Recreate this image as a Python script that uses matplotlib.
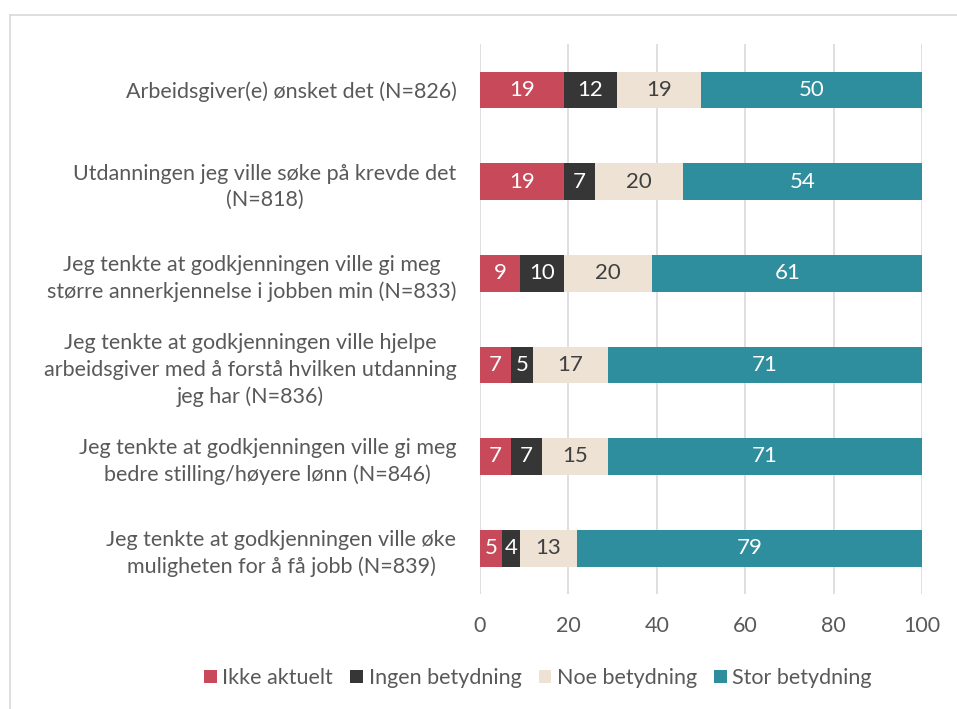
import matplotlib.pyplot as plt
from matplotlib.lines import Line2D
import numpy as np

plt.rcParams['font.family'] = ['Lato', 'DejaVu Sans']

# Data
categories = [
    "Arbeidsgiver(e) ønsket det (N=826)",
    "Utdanningen jeg ville søke på krevde det\n(N=818)",
    "Jeg tenkte at godkjenningen ville gi meg\nstørre annerkjennelse i jobben min (N=833)",
    "Jeg tenkte at godkjenningen ville hjelpe\narbeidsgiver med å forstå hvilken utdanning\njeg har (N=836)",
    "Jeg tenkte at godkjenningen ville gi meg\nbedre stilling/høyere lønn (N=846)",
    "Jeg tenkte at godkjenningen ville øke\nmuligheten for å få jobb (N=839)",
]
series_names = ["Ikke aktuelt", "Ingen betydning", "Noe betydning", "Stor betydning"]
ikke_aktuelt = [19, 19, 9, 7, 7, 5]
ingen_betydning = [12, 7, 10, 5, 7, 4]
noe_betydning = [19, 20, 20, 17, 15, 13]
stor_betydning = [50, 54, 61, 71, 71, 79]
x_ticks = [0, 20, 40, 60, 80, 100]

colors = ["#C84A5A", "#363636", "#EDE2D3", "#2E8E9E"]
text_colors = ["white", "white", "#404040", "white"]
fs = 15.5

fig = plt.figure(figsize=(9.57, 7.09), dpi=100)
ax = fig.add_axes([480 / 957, 1 - 594 / 709, 442 / 957, 550 / 709])

y = np.arange(len(categories))
left = np.zeros(len(categories))
for vals, name, c, tc in zip([ikke_aktuelt, ingen_betydning, noe_betydning, stor_betydning],
                             series_names, colors, text_colors):
    vals = np.array(vals, dtype=float)
    bars = ax.barh(y, vals, left=left, height=0.4, color=c, label=name, zorder=3)
    ax.bar_label(bars, labels=[str(int(v)) for v in vals], label_type='center',
                 color=tc, fontsize=16)
    left += vals

ax.set_xlim(0, 100)
ax.set_ylim(len(categories) - 0.5, -0.5)
ax.set_xticks(x_ticks)
ax.set_yticks(y)
ax.set_yticklabels(categories)
for lbl in ax.get_yticklabels():
    lbl.set_multialignment('center')
    lbl.set_linespacing(1.4)
ax.tick_params(axis='both', length=0, labelsize=fs, labelcolor='#595959')
ax.tick_params(axis='y', pad=17)
ax.tick_params(axis='x', pad=16)
ax.grid(axis='x', color='#D9D9D9', linewidth=1.2, zorder=0)
for s in ax.spines.values():
    s.set_visible(False)

handles, labels = ax.get_legend_handles_labels()
fig.legend(handles, labels, loc='center', bbox_to_anchor=(538 / 957, 1 - 678 / 709), ncol=4,
           frameon=False, fontsize=fs, handlelength=0.6, handleheight=0.6,
           handletextpad=0.25, columnspacing=0.8, labelcolor='#595959')

# light border at top and left
fig.add_artist(Line2D([10 / 957, 1], [1 - 15 / 709, 1 - 15 / 709], color='#D9D9D9', linewidth=1.2,
                      transform=fig.transFigure))
fig.add_artist(Line2D([10 / 957, 10 / 957], [0, 1 - 15 / 709], color='#D9D9D9', linewidth=1.2,
                      transform=fig.transFigure))

fig.savefig("out.png", dpi=100)
